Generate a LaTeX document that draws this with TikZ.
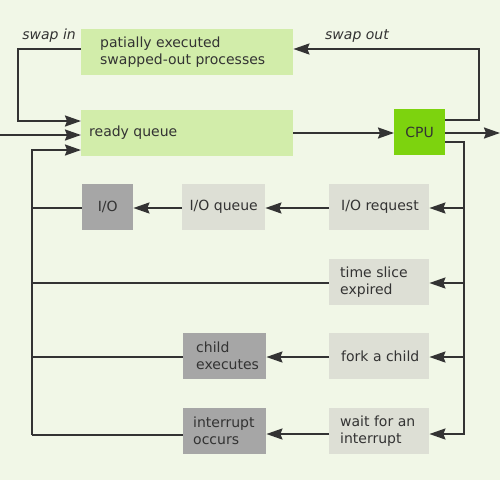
\documentclass[tikz,border=0pt]{standalone}
\usepackage{fontspec}
\setmainfont{DejaVu Sans}
\usetikzlibrary{arrows.meta}
\definecolor{bg}{HTML}{F1F7E7}
\definecolor{lgreen}{HTML}{D2EDAA}
\definecolor{cpugreen}{HTML}{7DD30E}
\definecolor{lgray}{HTML}{DDDFD5}
\definecolor{dgray}{HTML}{A6A6A6}
\definecolor{ink}{HTML}{333333}
\tikzset{
  box/.style={anchor=north west, inner sep=0pt, minimum height=46pt, text=ink,
    font=\fontsize{14}{16.5}\selectfont, align=center},
  txt/.style={anchor=west, inner sep=0pt, text=ink,
    font=\fontsize{14}{16.5}\selectfont, align=left},
  conn/.style={draw=ink, line width=2pt},
  arr/.style={conn, -{Stealth[length=16pt,width=11pt,inset=2pt]}},
  lbl/.style={text=ink, font=\fontsize{14}{16.5}\selectfont\itshape, inner sep=0pt},
}
\begin{document}
\begin{tikzpicture}[x=1pt,y=-1pt]
\fill[bg] (0,0) rectangle (500,480);
\useasboundingbox (0,0) rectangle (500,480);
% boxes
\node[box, fill=lgreen, minimum width=212pt] (swap) at (81,29) {};
\node[box, fill=lgreen, minimum width=212pt] (ready) at (81,110) {};
\node[box, fill=cpugreen, minimum width=51pt] (cpu) at (394,109) {CPU};
\node[box, fill=dgray, minimum width=51pt] (io) at (82,184) {I/O};
\node[box, fill=lgray, minimum width=83pt] (ioq) at (182,184) {I/O queue};
\node[box, fill=lgray, minimum width=100pt] (ioreq) at (329,184) {};
\node[box, fill=lgray, minimum width=100pt] (slice) at (329,259) {};
\node[box, fill=lgray, minimum width=100pt] (fork) at (329,333) {};
\node[box, fill=dgray, minimum width=83pt] (child) at (183,333) {};
\node[box, fill=lgray, minimum width=100pt] (wait) at (329,408) {};
\node[box, fill=dgray, minimum width=83pt] (intr) at (183,408) {};
% texts
\node[txt] (swapT) at (100,52) {patially executed\\swapped-out processes};
\node[txt] (readyT) at (89,133) {ready queue};
\node[txt] (ioreqT) at (341,207) {I/O request};
\node[txt] (sliceT) at (340,282) {time slice\\expired};
\node[txt] (forkT) at (341,356) {fork a child};
\node[txt] (childT) at (196,356) {child\\executes};
\node[txt] (waitT) at (340,431) {wait for an\\interrupt};
\node[txt] (intrT) at (193,431) {interrupt\\occurs};
% coordinates
\coordinate (inL) at (0,135);
\coordinate (outR) at (500,133);
% labels
\node[lbl, anchor=south east] (swapinlbl) at (76,43) {swap in};
\node[lbl, anchor=south west] (swapoutlbl) at (325,43) {swap out};
% swap in
\draw[arr] (swap.west|-0,49) -| (18,121) -- (ready.west|-0,121);
% incoming
\draw[arr] (inL) -- (ready.west|-0,135);
% return loop
\draw[arr] (32,435) -- (32,150) -- (ready.west|-0,150);
\draw[conn] (32,208) -- (io.west|-0,208);
\draw[conn] (32,283) -- (slice.west|-0,283);
\draw[conn] (32,357) -- (child.west|-0,357);
\draw[conn] (32,435) -- (intr.west|-0,435);
% ready -> cpu
\draw[arr] (ready.east|-0,133) -- (cpu.west|-0,133);
\draw[arr] (cpu.east|-0,133) -- (outR);
% swap out
\draw[arr] (cpu.east|-0,120) -| (479,49) -- (swap.east|-0,49);
% cpu down
\draw[conn] (cpu.east|-0,142) -| (464,435);
\draw[arr] (464,208) -- (ioreq.east|-0,208);
\draw[arr] (464,283) -- (slice.east|-0,283);
\draw[arr] (464,357) -- (fork.east|-0,357);
\draw[arr] (464,434) -- (wait.east|-0,434);
% horizontal
\draw[arr] (ioreq.west|-0,208) -- (ioq.east|-0,208);
\draw[arr] (ioq.west|-0,208) -- (io.east|-0,208);
\draw[arr] (fork.west|-0,357) -- (child.east|-0,357);
\draw[arr] (wait.west|-0,434) -- (intr.east|-0,434);
\end{tikzpicture}
\end{document}
